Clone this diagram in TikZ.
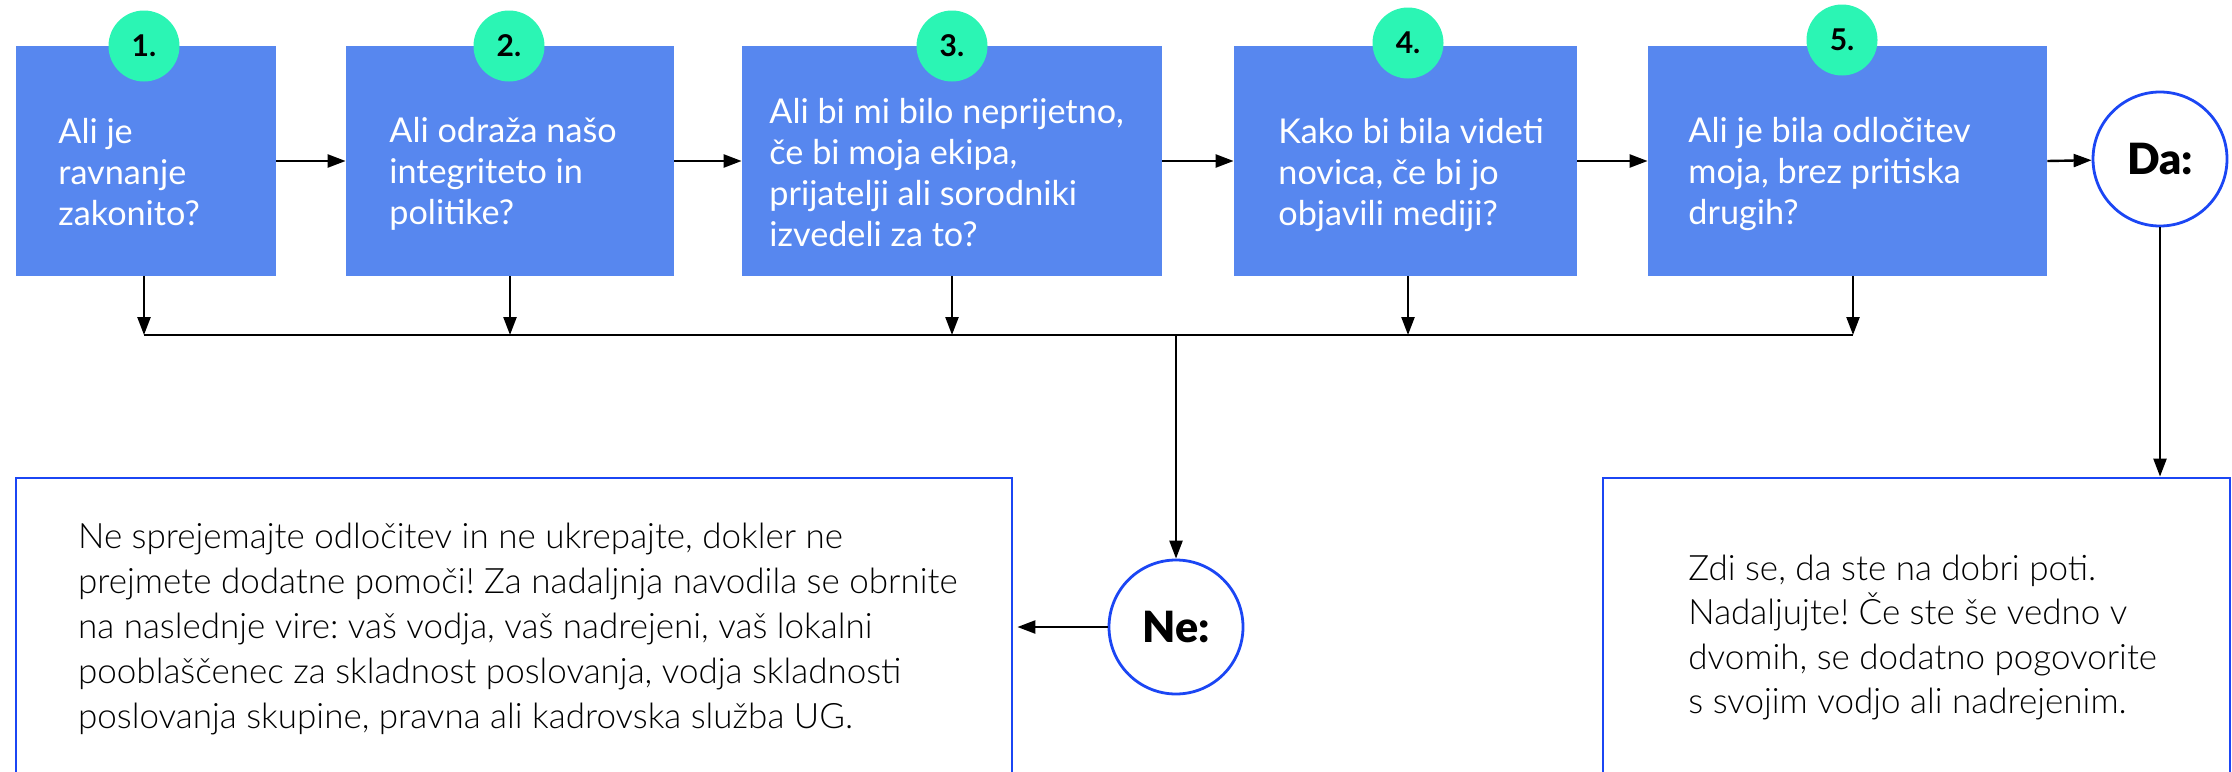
\documentclass[tikz,border=0pt]{standalone}
\usepackage{fontspec}
\usetikzlibrary{arrows.meta}
\frenchspacing
\newfontfamily\lato{Lato}
\newfontfamily\latolight{Lato Light}
\newfontfamily\latoblack{Lato Black}
\definecolor{qblue}{HTML}{5787EF}
\definecolor{mint}{HTML}{2BF5B4}
\definecolor{rimblue}{HTML}{1B46F4}
\tikzset{
  qbox/.style={rectangle, fill=qblue, draw=none, minimum height=115pt, inner sep=0pt},
  badge/.style={circle, fill=mint, draw=none, minimum size=35.5pt, inner sep=0pt,
    font=\lato\bfseries\fontsize{15}{15}\selectfont},
  qtext/.style={anchor=base west, inner sep=0pt, align=left, text=white,
    font=\lato\fontsize{17.1}{20.4}\selectfont},
  answer/.style={circle, draw=rimblue, line width=1.4pt, fill=white, minimum size=67pt, inner sep=0pt,
    font=\latoblack\fontsize{21.5}{21.5}\selectfont},
  outbox/.style={rectangle, draw=rimblue, line width=1.4pt, minimum height=300pt, inner sep=0pt},
  otext/.style={anchor=base west, inner sep=0pt, align=left, text=black,
    font=\latolight\fontsize{17.5}{22.5}\selectfont},
  conn/.style={line width=1.2pt, draw=black},
  arr/.style={conn, -{Triangle[length=9pt,width=6.5pt]}}
}
\begin{document}
\begin{tikzpicture}[x=0.5pt,y=-0.5pt]
\useasboundingbox (0,0) rectangle (2232,771);
% question boxes
\node[qbox, minimum width=130pt]   (b1) at (146,161) {};
\node[qbox, minimum width=164pt]   (b2) at (510,161) {};
\node[qbox, minimum width=210pt]   (b3) at (952,161) {};
\node[qbox, minimum width=171.5pt] (b4) at (1405.5,161) {};
\node[qbox, minimum width=199.5pt] (b5) at (1847.5,161) {};
% question texts (anchored at the baseline of the last line)
\node[qtext] (t1) at (58,225)   {Ali je\\ravnanje\\zakonito?};
\node[qtext] (t2) at (389,224)  {Ali odraža našo\\integriteto in\\politike?};
\node[qtext] (t3) at (769,246)  {Ali bi mi bilo neprijetno,\\če bi moja ekipa,\\prijatelji ali sorodniki\\izvedeli za to?};
\node[qtext] (t4) at (1278,225) {Kako bi bila videti\\novica, če bi jo\\objavili mediji?};
\node[qtext] (t5) at (1688,224) {Ali je bila odločitev\\moja, brez pritiska\\drugih?};
% badges
\node[badge] (n1) at (144,46)  {1.};
\node[badge] (n2) at (509,46)  {2.};
\node[badge] (n3) at (952,46)  {3.};
\node[badge] (n4) at (1408,43) {4.};
\node[badge] (n5) at (1842,40) {5.};
% answers
\node[answer] (da) at (2160,159) {Da:};
\node[answer] (ne) at (1176,627) {Ne:};
% outcome boxes
\node[outbox, minimum width=498pt]   (nobox)  at (514,778) {};
\node[outbox, minimum width=313.5pt] (yesbox) at (1916.5,778) {};
\node[otext] (notext) at (77.7,728) {Ne sprejemajte odločitev in ne ukrepajte, dokler ne\\prejmete dodatne pomoči! Za nadaljnja navodila se obrnite\\na naslednje vire: vaš vodja, vaš nadrejeni, vaš lokalni\\pooblaščenec za skladnost poslovanja, vodja skladnosti\\poslovanja skupine, pravna ali kadrovska služba UG.};
\node[otext, font=\latolight\fontsize{17.5}{22.25}\selectfont] (yestext) at (1688,713.5) {Zdi se, da ste na dobri poti.\\Nadaljujte! Če ste še vedno v\\dvomih, se dodatno pogovorite\\s svojim vodjo ali nadrejenim.};
% bus junctions
\coordinate (j1) at (144,335);
\coordinate (j2) at (510,335);
\coordinate (j3) at (952,335);
\coordinate (j4) at (1408,335);
\coordinate (j5) at (1853,335);
\coordinate (jn) at (1176,335);
% horizontal flow
\draw[arr] (b1.east) -- (b2.west);
\draw[arr] (b2.east) -- (b3.west);
\draw[arr] (b3.east) -- (b4.west);
\draw[arr] (b4.east) -- (b5.west);
\draw[arr] (b5.east) -- (da);
% down to bus
\draw[arr] (b1.south -| j1) -- (j1);
\draw[arr] (b2.south -| j2) -- (j2);
\draw[arr] (b3.south -| j3) -- (j3);
\draw[arr] (b4.south -| j4) -- (j4);
\draw[arr] (b5.south -| j5) -- (j5);
\draw[conn] (j1) -- (j5);
\draw[arr] (jn) -- (ne.north);
\draw[arr, shorten >=2pt] (ne.west) -- (ne.west -| nobox.east);
\draw[arr] (da.south) -- (da.south |- yesbox.north);
\end{tikzpicture}
\end{document}
